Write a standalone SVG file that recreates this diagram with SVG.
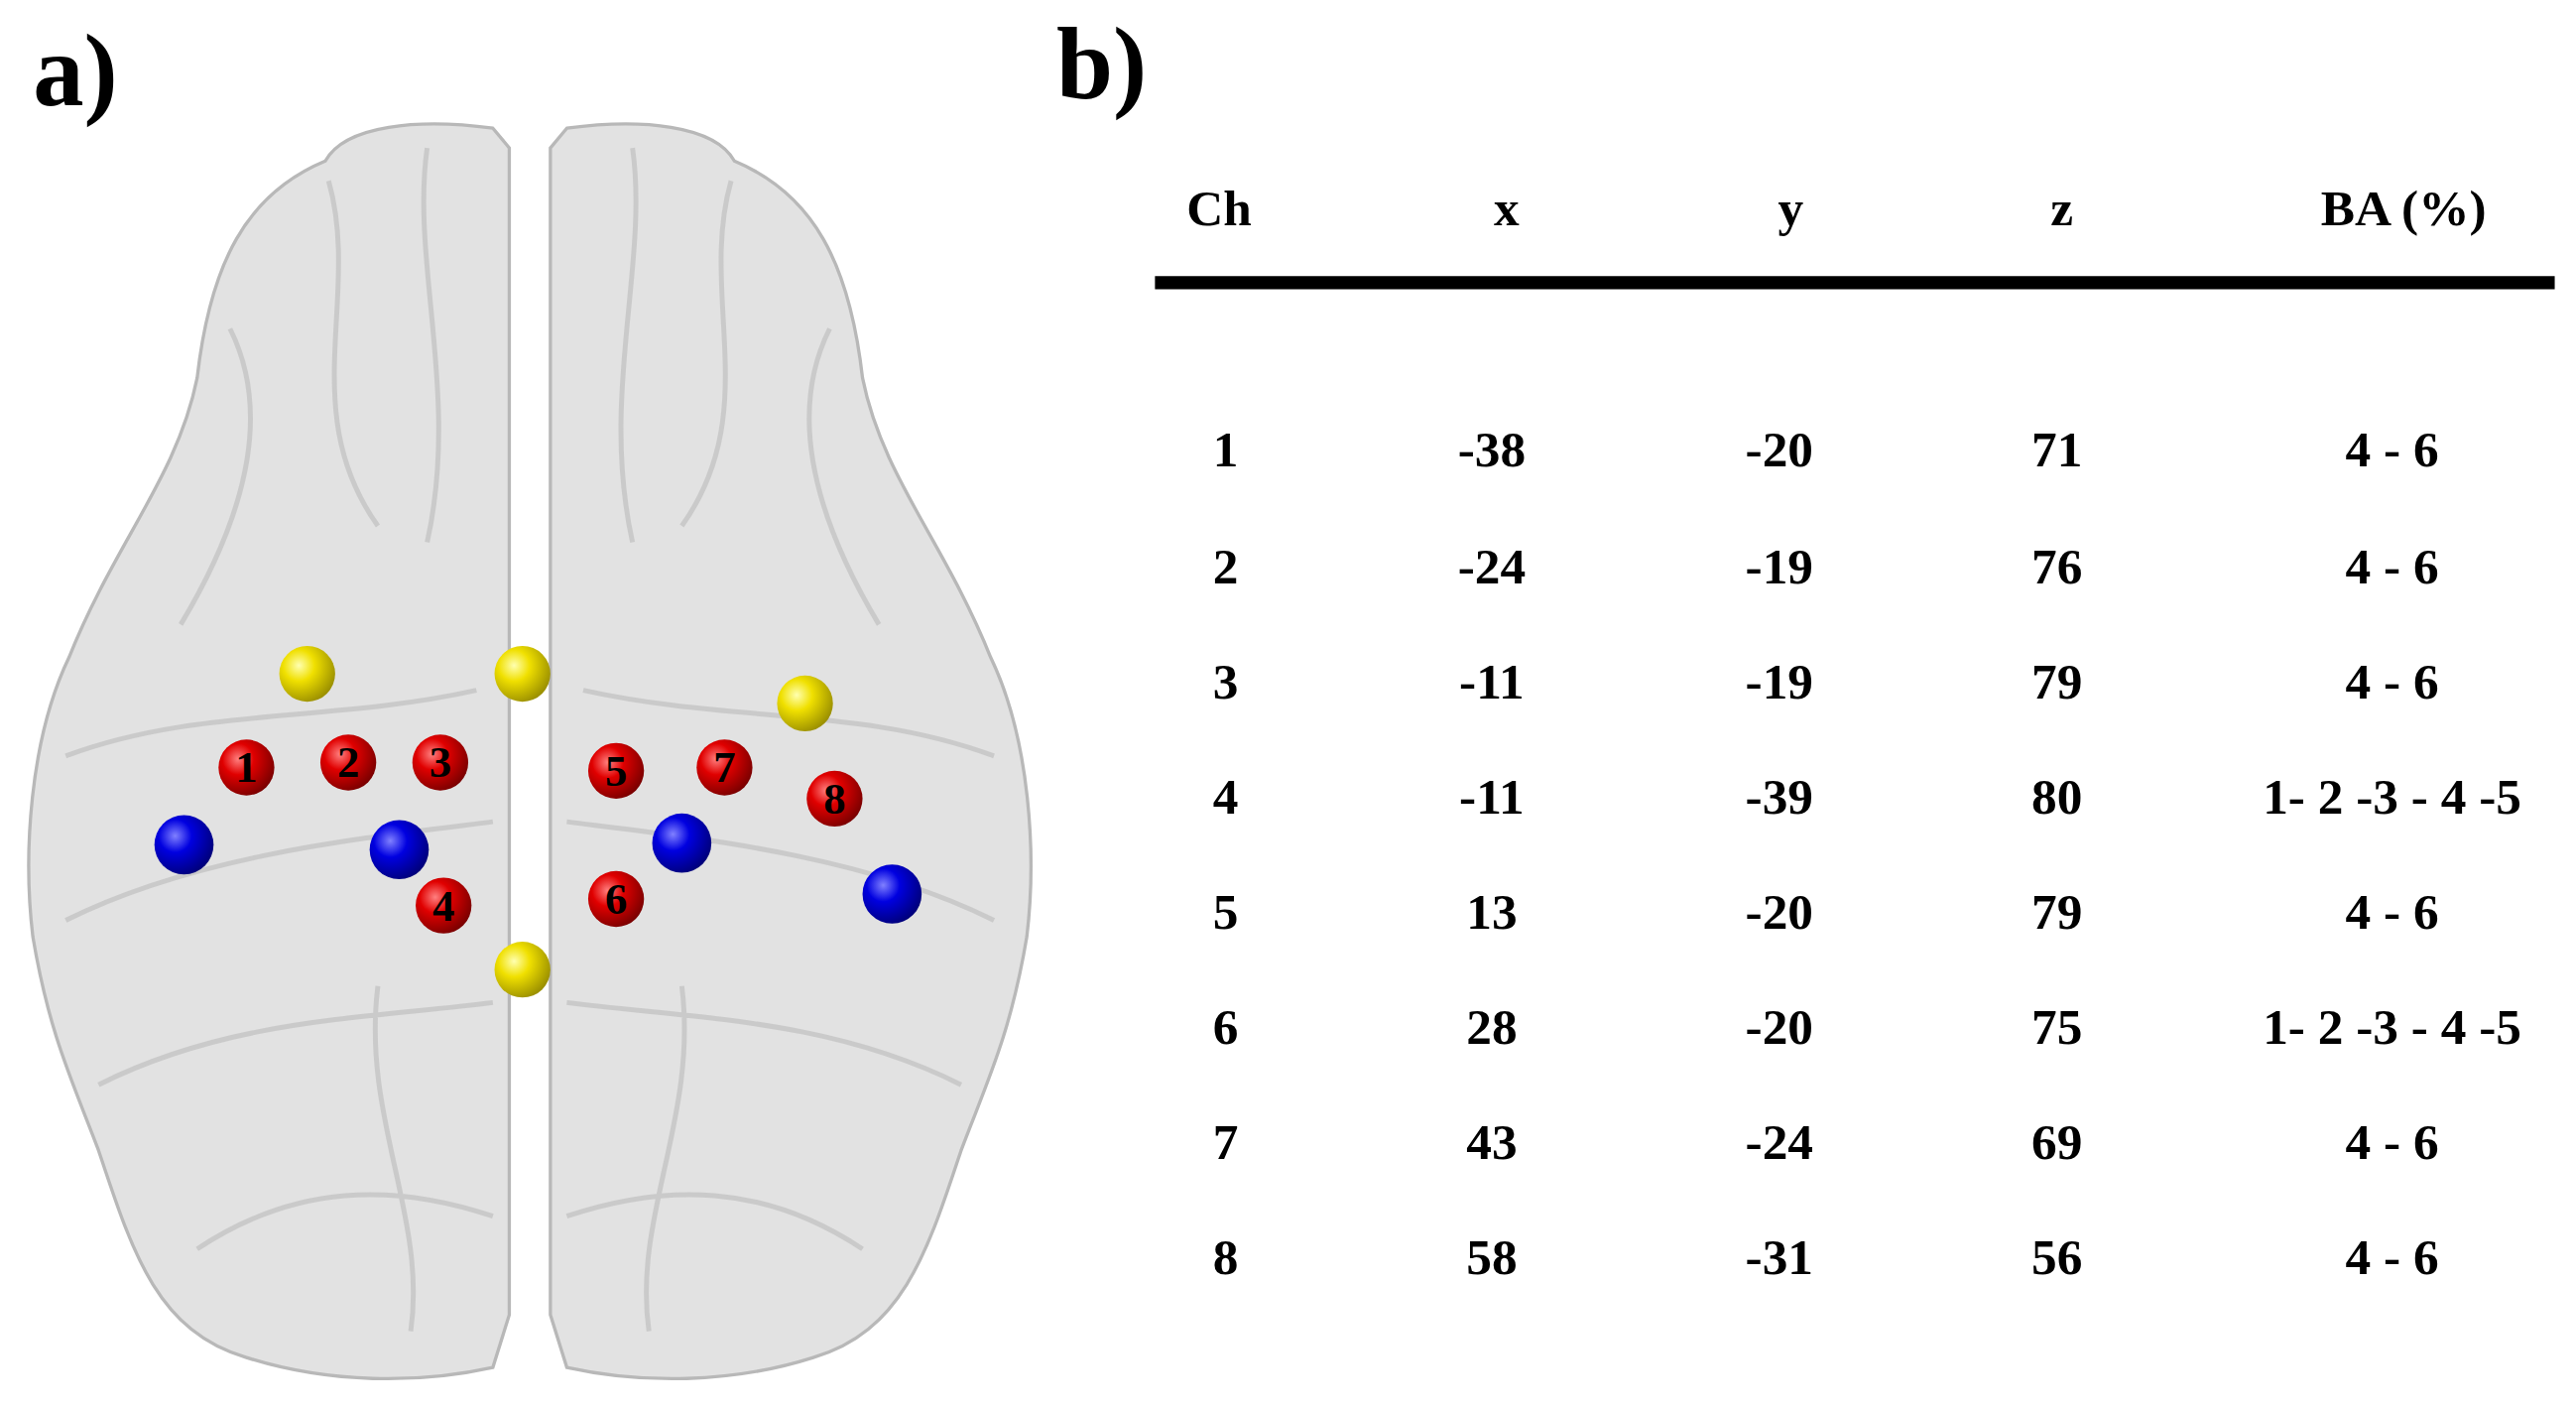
<svg xmlns="http://www.w3.org/2000/svg" width="2597" height="1421" viewBox="0 0 2597 1421">
<defs>
<style>
.lbl{font-family:"Liberation Serif",serif;font-weight:bold;fill:#000}
.t{font-family:"Liberation Serif",serif;font-weight:bold;font-size:31px;text-anchor:middle;fill:#000}
.n{font-family:"Liberation Serif",serif;font-weight:bold;font-size:27px;text-anchor:middle;fill:#000}
.hemi{fill:#e2e2e2;stroke:#b8b8b8;stroke-width:2}
.gyr{fill:none;stroke:#c4c4c4;stroke-width:3;opacity:0.8}
</style>
<radialGradient id="gy" cx="0.35" cy="0.35" r="0.7"><stop offset="0" stop-color="#ffffb0"/><stop offset="0.4" stop-color="#f0e000"/><stop offset="1" stop-color="#9a8f00"/></radialGradient>
<radialGradient id="gr" cx="0.35" cy="0.35" r="0.7"><stop offset="0" stop-color="#ff8080"/><stop offset="0.4" stop-color="#e00000"/><stop offset="1" stop-color="#7a0000"/></radialGradient>
<radialGradient id="gb" cx="0.35" cy="0.35" r="0.7"><stop offset="0" stop-color="#8080ff"/><stop offset="0.4" stop-color="#0000e0"/><stop offset="1" stop-color="#00007a"/></radialGradient>
</defs>
<rect width="2597" height="1421" fill="#fff"/>
<g transform="scale(1.6563)">
<text class="lbl" x="20" y="64" font-size="62">a)</text>
<text class="lbl" x="643" y="60" font-size="62">b)</text>
<g id="brain">
<path class="hemi" d="M300,78 C255,72 210,76 198,98 C150,118 128,160 120,230 C108,290 70,330 42,400 C18,450 14,520 20,570 C30,630 45,660 60,700 C80,760 95,810 150,826 C200,842 255,842 300,832 L310,800 L310,90 Z"/>
<path class="hemi" d="M345,78 C390,72 435,76 447,98 C495,118 517,160 525,230 C537,290 575,330 603,400 C627,450 631,520 625,570 C615,630 600,660 585,700 C565,760 550,810 495,826 C445,842 390,842 345,832 L335,800 L335,90 Z"/>
<path class="gyr" d="M200,110 C220,180 180,250 230,320 M260,90 C250,160 280,240 260,330 M140,200 C170,260 140,330 110,380 M40,460 C120,430 200,440 290,420 M40,560 C120,520 220,510 300,500 M60,660 C140,620 220,620 300,610 M120,760 C180,720 240,720 300,740 M230,600 C220,680 260,740 250,810"/>
<path class="gyr" d="M445,110 C425,180 465,250 415,320 M385,90 C395,160 365,240 385,330 M505,200 C475,260 505,330 535,380 M605,460 C525,430 445,440 355,420 M605,560 C525,520 425,510 345,500 M585,660 C505,620 425,620 345,610 M525,760 C465,720 405,720 345,740 M415,600 C425,680 385,740 395,810"/>
</g>
<g id="optodes">
<circle cx="187" cy="410" r="17" fill="url(#gy)"/>
<circle cx="318" cy="410" r="17" fill="url(#gy)"/>
<circle cx="490" cy="428" r="17" fill="url(#gy)"/>
<circle cx="318" cy="590" r="17" fill="url(#gy)"/>
<circle cx="112" cy="514" r="18" fill="url(#gb)"/>
<circle cx="243" cy="517" r="18" fill="url(#gb)"/>
<circle cx="415" cy="513" r="18" fill="url(#gb)"/>
<circle cx="543" cy="544" r="18" fill="url(#gb)"/>
</g>
<g id="ch1"><circle cx="150" cy="467" r="17" fill="url(#gr)"/><text class="n" x="150" y="476">1</text></g>
<g id="ch2"><circle cx="212" cy="464" r="17" fill="url(#gr)"/><text class="n" x="212" y="473">2</text></g>
<g id="ch3"><circle cx="268" cy="464" r="17" fill="url(#gr)"/><text class="n" x="268" y="473">3</text></g>
<g id="ch4"><circle cx="270" cy="551" r="17" fill="url(#gr)"/><text class="n" x="270" y="560">4</text></g>
<g id="ch5"><circle cx="375" cy="469" r="17" fill="url(#gr)"/><text class="n" x="375" y="478">5</text></g>
<g id="ch6"><circle cx="375" cy="547" r="17" fill="url(#gr)"/><text class="n" x="375" y="556">6</text></g>
<g id="ch7"><circle cx="441" cy="467" r="17" fill="url(#gr)"/><text class="n" x="441" y="476">7</text></g>
<g id="ch8"><circle cx="508" cy="486" r="17" fill="url(#gr)"/><text class="n" x="508" y="495">8</text></g>
<g id="table">
<text class="t" x="742" y="137">Ch</text><text class="t" x="917" y="137">x</text><text class="t" x="1090" y="137">y</text><text class="t" x="1255" y="137">z</text><text class="t" x="1463" y="137">BA (%)</text>
<rect x="703" y="168" width="852" height="8" fill="#000"/>
<g><text class="t" x="746" y="284">1</text><text class="t" x="908" y="284">-38</text><text class="t" x="1083" y="284">-20</text><text class="t" x="1252" y="284">71</text><text class="t" x="1456" y="284">4 - 6</text></g>
<g><text class="t" x="746" y="355">2</text><text class="t" x="908" y="355">-24</text><text class="t" x="1083" y="355">-19</text><text class="t" x="1252" y="355">76</text><text class="t" x="1456" y="355">4 - 6</text></g>
<g><text class="t" x="746" y="425">3</text><text class="t" x="908" y="425">-11</text><text class="t" x="1083" y="425">-19</text><text class="t" x="1252" y="425">79</text><text class="t" x="1456" y="425">4 - 6</text></g>
<g><text class="t" x="746" y="495">4</text><text class="t" x="908" y="495">-11</text><text class="t" x="1083" y="495">-39</text><text class="t" x="1252" y="495">80</text><text class="t" x="1456" y="495">1- 2 -3 - 4 -5</text></g>
<g><text class="t" x="746" y="565">5</text><text class="t" x="908" y="565">13</text><text class="t" x="1083" y="565">-20</text><text class="t" x="1252" y="565">79</text><text class="t" x="1456" y="565">4 - 6</text></g>
<g><text class="t" x="746" y="635">6</text><text class="t" x="908" y="635">28</text><text class="t" x="1083" y="635">-20</text><text class="t" x="1252" y="635">75</text><text class="t" x="1456" y="635">1- 2 -3 - 4 -5</text></g>
<g><text class="t" x="746" y="705">7</text><text class="t" x="908" y="705">43</text><text class="t" x="1083" y="705">-24</text><text class="t" x="1252" y="705">69</text><text class="t" x="1456" y="705">4 - 6</text></g>
<g><text class="t" x="746" y="775">8</text><text class="t" x="908" y="775">58</text><text class="t" x="1083" y="775">-31</text><text class="t" x="1252" y="775">56</text><text class="t" x="1456" y="775">4 - 6</text></g>
</g>
</g>
</svg>
